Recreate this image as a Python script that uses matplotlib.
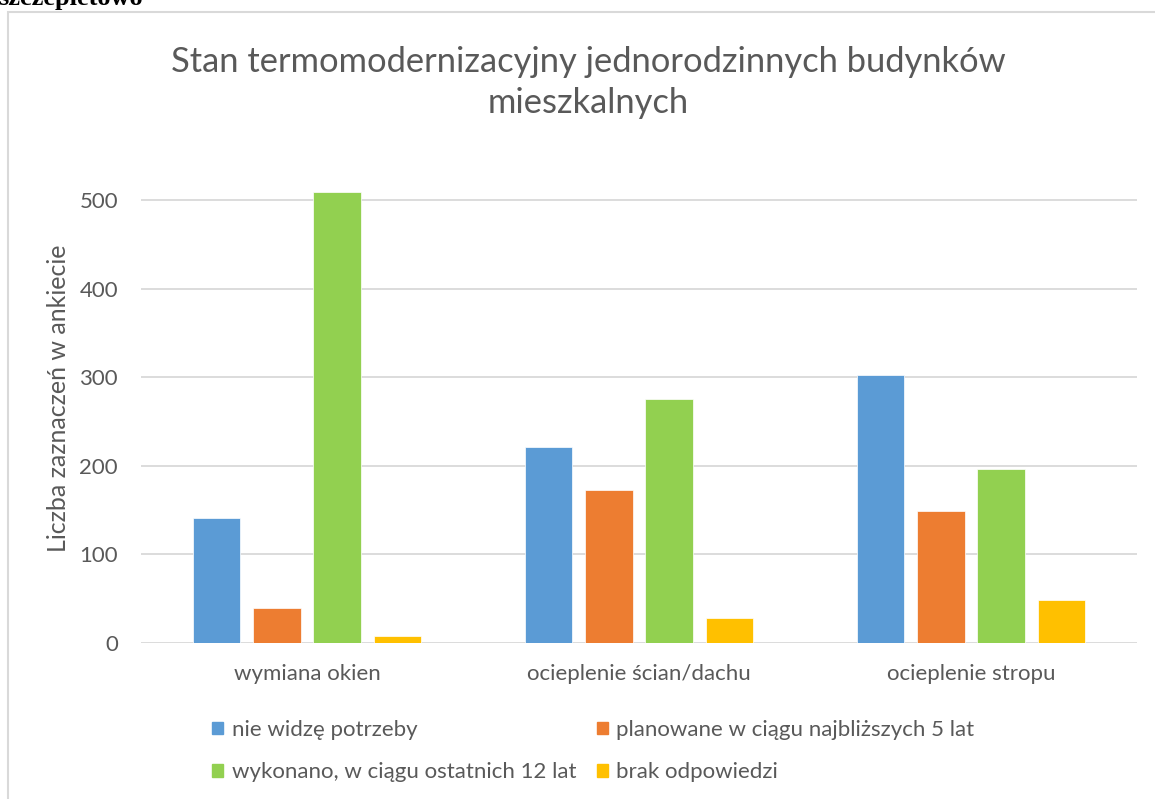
import numpy as np
import matplotlib
matplotlib.use("Agg")
import matplotlib.pyplot as plt
from matplotlib.patches import Patch, Rectangle

plt.rcParams['font.family'] = ['Lato', 'DejaVu Sans']

# dane z wykresu
categories = ['wymiana okien', 'ocieplenie ścian/dachu', 'ocieplenie stropu']
series_names = ['nie widzę potrzeby',
                'planowane w ciągu najbliższych 5 lat',
                'wykonano, w ciągu ostatnich 12 lat',
                'brak odpowiedzi']
nie_widze = [141, 221, 303]
planowane = [39, 173, 149]
wykonano = [509, 275, 196]
brak = [8, 28, 49]
yticks = [0, 100, 200, 300, 400, 500]

colors = ['#5B9BD5', '#ED7D31', '#92D050', '#FFC000']
txt = '#595959'

W, H = 1155, 799
fig = plt.figure(figsize=(W / 100, H / 100), dpi=100)

# ramka obszaru wykresu
fig.patches.append(Rectangle((8 / W, -0.1), 1.2, 1 - 12 / H + 0.1,
                             transform=fig.transFigure, fill=False,
                             edgecolor='#D9D9D9', linewidth=1.5))
# obcięty tekst nad wykresem (w oryginale widoczny tylko dół)
fig.text(143 / W, 1 - 5 / H, 'szczepietowo', family='Liberation Serif',
         weight='bold', fontsize=19, ha='right', va='baseline', color='black')

ax = fig.add_axes([141 / W, 1 - 643 / H, 996 / W, (643 - 164.6) / H])
x = np.arange(len(categories))
bw = 0.1425
step = 0.1815
data = [nie_widze, planowane, wykonano, brak]
for i, (vals, c) in enumerate(zip(data, colors)):
    ax.bar(x + (i - 1.5) * step, vals, width=bw, color=c,
           edgecolor='white', linewidth=0.5, zorder=3)

ax.set_xlim(-0.5, 2.5)
ax.set_ylim(0, 540)
ax.set_yticks(yticks)
ax.set_xticks(x)
ax.set_xticklabels(categories)
ax.grid(axis='y', color='#D9D9D9', linewidth=1.3, zorder=0)
for s in ax.spines.values():
    s.set_visible(False)
ax.tick_params(length=0, colors=txt, labelsize=16)
ax.tick_params(axis='y', pad=16.5)
ax.tick_params(axis='x', pad=15)

fig.text(59 / W, 1 - 398 / H, 'Liczba zaznaczeń w ankiecie', rotation=90,
         ha='center', va='center', fontsize=18, color=txt)

fig.text(588 / W, 1 - 72 / H, 'Stan termomodernizacyjny jednorodzinnych budynków',
         ha='center', va='baseline', fontsize=24.8, color=txt)
fig.text(588 / W, 1 - 113 / H, 'mieszkalnych',
         ha='center', va='baseline', fontsize=24.8, color=txt)

handles = [Patch(color=c) for c in colors]
order = [0, 2, 1, 3]
leg = fig.legend([handles[i] for i in order], [series_names[i] for i in order],
                 ncol=2, loc='upper left', bbox_to_anchor=(192 / W, 1 - 700 / H),
                 frameon=False, fontsize=16, handlelength=0.5, handleheight=0.5,
                 handletextpad=0.4, labelspacing=1.0, columnspacing=0.9)
for t in leg.get_texts():
    t.set_color(txt)

fig.savefig('out.png', dpi=100)
